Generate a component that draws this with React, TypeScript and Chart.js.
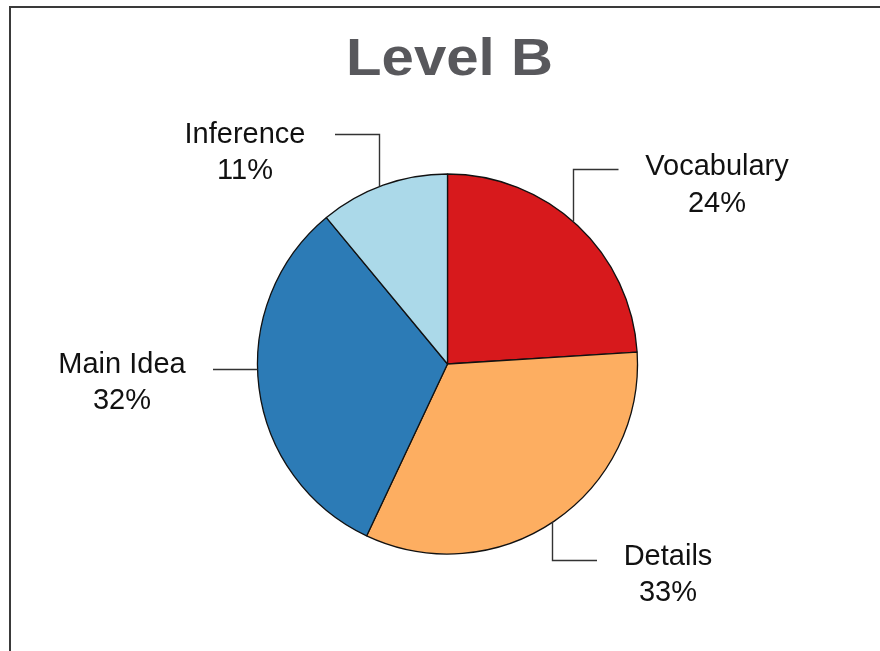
import React, { useEffect, useRef } from "react";
import { Chart, registerables } from "chart.js";

Chart.register(...registerables);

// ---- data ----
const chartTitle = "Level B";
const categories = ["Vocabulary", "Details", "Main Idea", "Inference"];
const percentages = [24, 33, 32, 11];
const sliceColors = ["#d7191c", "#fdae61", "#2c7bb6", "#abd9e9"];

// ---- label layout (annotation placement, not data) ----
// kind: "elbowDown" = horizontal stub then vertical line down to the pie edge
//       "elbowUp"   = horizontal stub then vertical line up to the pie edge
//       "horiz"     = horizontal line straight to the left pie edge
const labelLayouts = [
  { cx: 717, base1: 175, base2: 212, kind: "elbowDown", hx1: 618.5, hx2: 573.5, hy: 169.5 },
  { cx: 668, base1: 565, base2: 601, kind: "elbowUp", hx1: 597, hx2: 552.5, hy: 560.5 },
  { cx: 122, base1: 373, base2: 409, kind: "horiz", hx1: 213, hx2: 0, hy: 369.5 },
  { cx: 245, base1: 143, base2: 179, kind: "elbowDown", hx1: 335, hx2: 379.5, hy: 134.5 },
];

const labelPlugin = {
  id: "pieLabels",
  afterDatasetsDraw(chart: any) {
    const ctx = chart.ctx as CanvasRenderingContext2D;
    const meta = chart.getDatasetMeta(0);
    const arc = meta.data[0] as any;
    const cx = arc.x;
    const cy = arc.y;
    const r = arc.outerRadius;
    const data = chart.data.datasets[0].data as number[];
    const labels = chart.data.labels as string[];

    ctx.save();
    ctx.strokeStyle = "#333333";
    ctx.lineWidth = 1.4;
    labelLayouts.forEach((lay) => {
      ctx.beginPath();
      if (lay.kind === "horiz") {
        const dy = lay.hy - cy;
        const ex = cx - Math.sqrt(Math.max(r * r - dy * dy, 0));
        ctx.moveTo(lay.hx1, lay.hy);
        ctx.lineTo(ex, lay.hy);
      } else {
        const dx = lay.hx2 - cx;
        const h = Math.sqrt(Math.max(r * r - dx * dx, 0));
        const ey = lay.kind === "elbowDown" ? cy - h : cy + h;
        ctx.moveTo(lay.hx1, lay.hy);
        ctx.lineTo(lay.hx2, lay.hy);
        ctx.lineTo(lay.hx2, ey);
      }
      ctx.stroke();
    });

    ctx.fillStyle = "#111111";
    ctx.font = "29px 'Liberation Sans', Arial, sans-serif";
    ctx.textAlign = "center";
    ctx.textBaseline = "alphabetic";
    labelLayouts.forEach((lay, i) => {
      ctx.fillText(labels[i], lay.cx, lay.base1);
      ctx.fillText(data[i] + "%", lay.cx, lay.base2);
    });

    // title
    ctx.fillStyle = "#58585c";
    ctx.font = "bold 51px 'Liberation Sans', Arial, sans-serif";
    ctx.translate(449.5, 75);
    ctx.scale(1.14, 1);
    ctx.fillText(chartTitle, 0, 0);
    ctx.restore();
  },
};

export default function App() {
  const canvasRef = useRef<HTMLCanvasElement | null>(null);

  useEffect(() => {
    if (!canvasRef.current) return;
    const chart = new Chart(canvasRef.current, {
      type: "pie",
      data: {
        labels: categories,
        datasets: [
          {
            data: percentages,
            backgroundColor: sliceColors,
            borderColor: "#111111",
            borderWidth: 1.3,
            radius: 190,
          } as any,
        ],
      },
      options: {
        responsive: false,
        animation: false,
        devicePixelRatio: 1,
        layout: { padding: { left: 200, right: 185, top: 150, bottom: 73 } },
        plugins: {
          legend: { display: false },
          tooltip: { enabled: false },
          title: { display: false },
        },
      },
      plugins: [labelPlugin],
    });
    return () => chart.destroy();
  }, []);

  return (
    <div
      style={{
        position: "absolute",
        left: 0,
        top: 0,
        width: 880,
        height: 651,
        background: "#ffffff",
        overflow: "hidden",
      }}
    >
      <div
        style={{
          position: "absolute",
          left: 9,
          top: 6,
          width: 900,
          height: 700,
          borderLeft: "2px solid #3a3a3a",
          borderTop: "2px solid #3a3a3a",
        }}
      />
      <canvas
        ref={canvasRef}
        width={880}
        height={651}
        style={{ position: "absolute", left: 0, top: 0, width: 880, height: 651 }}
      />
    </div>
  );
}
